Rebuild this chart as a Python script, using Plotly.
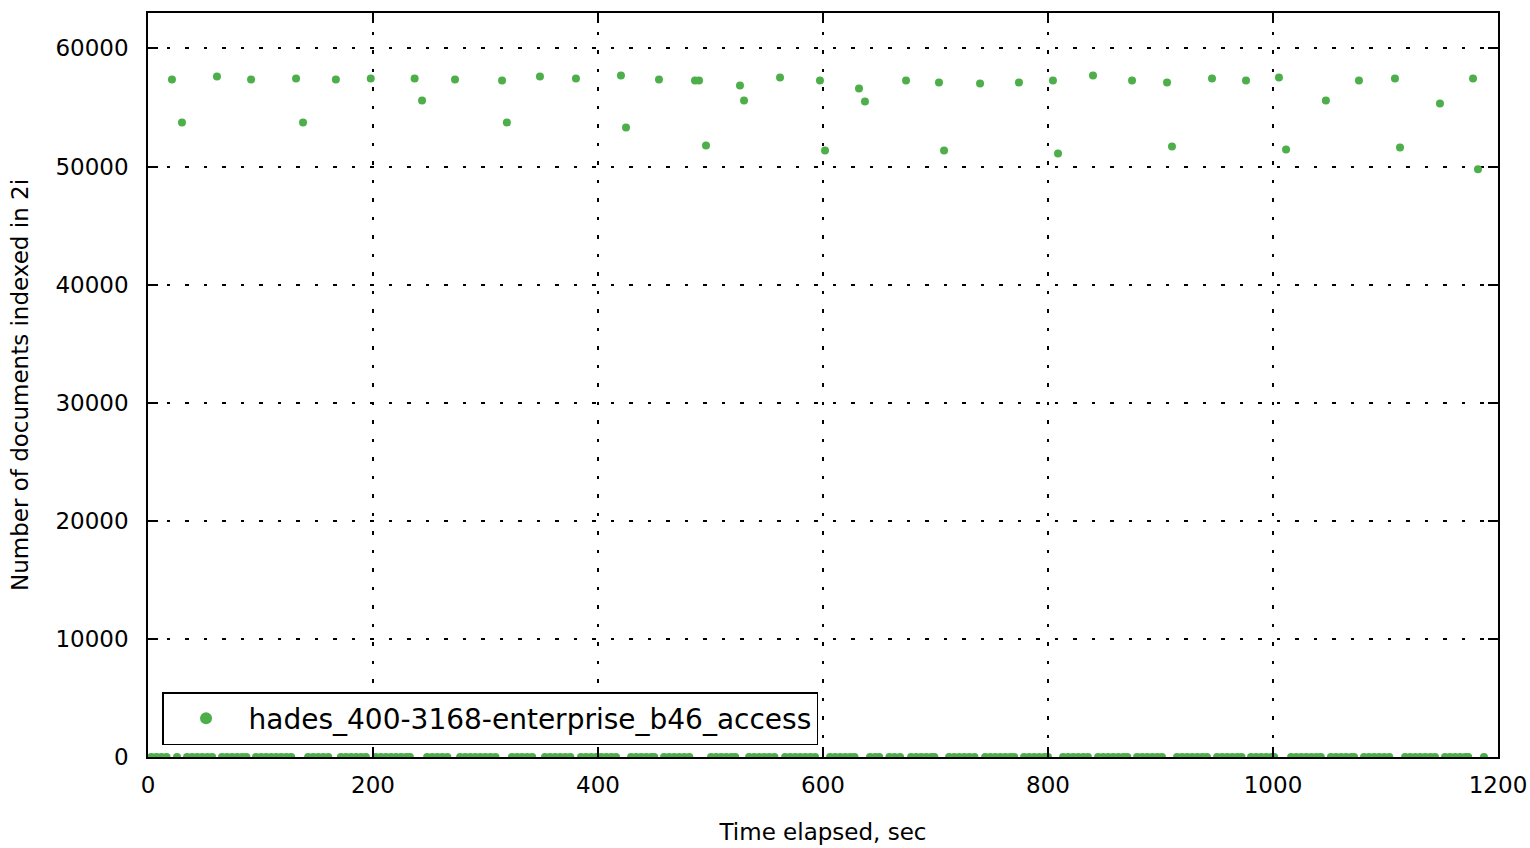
import plotly.graph_objects as go

series_name = "hades_400-3168-enterprise_b46_access"
x_title = "Time elapsed, sec"
y_title = "Number of documents indexed in 2i"

x_ticks = [0, 200, 400, 600, 800, 1000, 1200]
y_ticks = [0, 10000, 20000, 30000, 40000, 50000, 60000]

# samples where documents were indexed
active_time = [21.3, 30.2, 61.3, 91.6, 131.6, 137.8, 167, 198, 237, 243.6, 272.9,
               314.7, 319, 348.4, 380.4, 420.4, 424.9, 454.2, 486.2, 489.8, 496,
               526.2, 529.8, 561.8, 597.3, 601.8, 632, 637.3, 673.8, 703.1, 707.6,
               739.6, 774.2, 804.4, 808.9, 840, 874.7, 905.8, 910.2, 945.8, 976,
               1005.3, 1011.6, 1047, 1076.4, 1108.4, 1112.9, 1148.4, 1177.8, 1182.2]
active_docs = [57375, 53736, 57629, 57375, 57460, 53736, 57375, 57460, 57460, 55598, 57375,
               57290, 53736, 57629, 57460, 57714, 53313, 57375, 57290, 57290, 51790,
               56868, 55598, 57545, 57290, 51367, 56614, 55514, 57290, 57121, 51367,
               57036, 57121, 57290, 51113, 57714, 57290, 57121, 51706, 57460, 57290,
               57545, 51452, 55598, 57290, 57460, 51621, 55345, 57460, 49759]

# samples where nothing was indexed
idle_time = [3, 7.5, 12, 16.5, 25.8,
             34.7, 39.2, 43.7, 48.2, 52.7, 57,
             65.8, 70.3, 74.8, 79.3, 83.8, 87.5,
             96, 100.5, 105, 109.5, 114, 118.5, 123, 127.3,
             142.3, 146.8, 151.3, 155.8, 160.3,
             171.5, 176, 180.5, 185, 189.5, 193.7,
             202.5, 207, 211.5, 216, 220.5, 225, 229.5, 232.8,
             248.1, 252.6, 257.1, 261.6, 266.1,
             277.4, 281.9, 286.4, 290.9, 295.4, 299.9, 304.4, 308.9,
             323.5, 328, 332.5, 337, 341.5,
             352.9, 357.4, 361.9, 366.4, 370.9, 375.4,
             384.9, 389.4, 393.9, 398.4, 402.9, 407.4, 411.9, 416,
             429.4, 433.9, 438.4, 442.9, 447.4, 450,
             458.7, 463.2, 467.7, 472.2, 476.7, 481.2,
             500.5, 505, 509.5, 514, 518.5, 522,
             534.3, 538.8, 543.3, 547.8, 552.3, 556.8,
             566.3, 570.8, 575.3, 579.8, 584.3, 588.8, 593,
             606.3, 610.8, 615.3, 619.8, 624.3, 628,
             641.8, 646.3, 650, 659, 663.5, 668.5,
             678.3, 682.8, 687.3, 691.8, 696.3, 699,
             712.1, 716.6, 721.1, 725.6, 730.1, 734.6,
             744.1, 748.6, 753.1, 757.6, 762.1, 766.6, 770,
             778.7, 783.2, 787.7, 792.2, 796.7, 800,
             813.4, 817.9, 822.4, 826.9, 831.4, 835.5,
             844.5, 849, 853.5, 858, 862.5, 867, 870.5,
             879.2, 883.7, 888.2, 892.7, 897.2, 901.3,
             914.7, 919.2, 923.7, 928.2, 932.7, 937.2, 941.3,
             950.3, 954.8, 959.3, 963.8, 968.3, 972,
             980.5, 985, 989.5, 994, 998.5, 1001,
             1016.1, 1020.6, 1025.1, 1029.6, 1034.1, 1038.6, 1042.5,
             1051.5, 1056, 1060.5, 1065, 1069.5, 1072,
             1080.9, 1085.4, 1089.9, 1094.4, 1098.9, 1103.4,
             1117.4, 1121.9, 1126.4, 1130.9, 1135.4, 1139.9, 1144,
             1152.9, 1157.4, 1161.9, 1166.4, 1170.9, 1173.5,
             1187.5]
idle_docs = [0] * len(idle_time)

GREEN = "#4daf4a"
FONT = "DejaVu Sans"

fig = go.Figure()
fig.add_trace(go.Scatter(
    x=active_time + idle_time,
    y=active_docs + idle_docs,
    mode="markers",
    name=series_name,
    marker=dict(color=GREEN, size=8, line=dict(width=0)),
    cliponaxis=True,
))

axis_common = dict(
    showline=True, linecolor="black", linewidth=1.5, mirror="ticks",
    ticks="inside", ticklen=10, tickwidth=1.5, tickcolor="black",
    showgrid=True, gridcolor="black", gridwidth=1.5,
    griddash="3.5px,15px", zeroline=False, automargin=False,
    tickfont=dict(family=FONT, size=23, color="black"),
)

fig.update_xaxes(range=[0, 1200], tickvals=x_ticks, ticktext=[str(v) for v in x_ticks],
                 title=dict(text=x_title, font=dict(family=FONT, size=23, color="black"), standoff=27),
                 ticklabelstandoff=7,
                 **axis_common)
fig.update_yaxes(range=[0, 63000], tickvals=y_ticks, ticktext=[str(v) for v in y_ticks],
                 title=dict(text=y_title, font=dict(family=FONT, size=23, color="black"), standoff=20),
                 ticklabelstandoff=13,
                 **axis_common)

fig.update_layout(
    width=1530, height=848,
    margin=dict(l=148, r=32, t=13, b=91),
    plot_bgcolor="white", paper_bgcolor="white",
    font=dict(family=FONT, color="black"),
    showlegend=True,
    legend=dict(
        x=0.0104, y=0.016, xanchor="left", yanchor="bottom",
        bgcolor="white", bordercolor="black", borderwidth=1.5,
        font=dict(family=FONT, size=28, color="black"),
        itemsizing="constant", itemwidth=75,
    ),
)

fig.write_html(
    "out.html",
    config={"displayModeBar": False},
    post_script="document.body.style.margin='0';document.body.style.overflow='hidden';",
)
